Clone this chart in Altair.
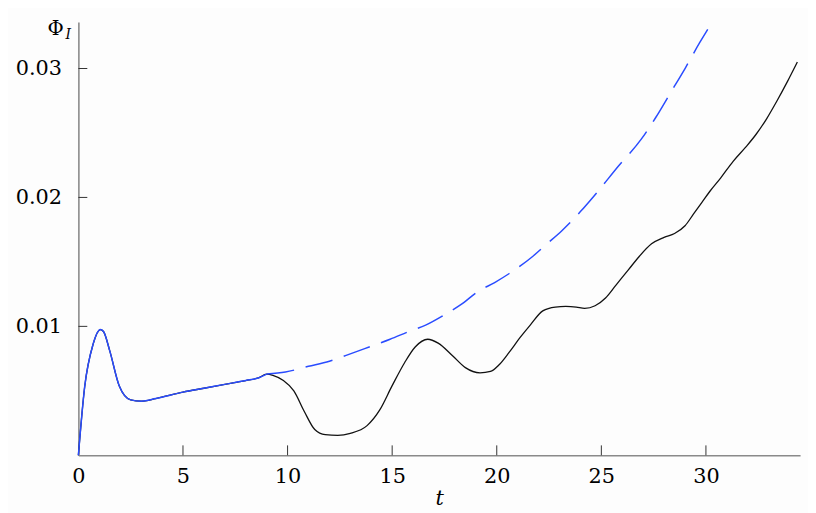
import altair as alt
import pandas as pd

# black solid curve (t, Phi_I)
black_t = [0, 0.3, 0.7, 1.05, 1.2, 1.5, 1.95, 2.5, 3.0, 3.7, 5.0, 6.0, 7.0, 8.0, 8.6, 9.0,
           9.3, 9.8, 10.3, 10.8, 11.3, 11.8, 12.4, 13.0, 13.8, 14.4, 15.0, 15.6, 16.1, 16.7,
           17.2, 17.9, 18.5, 19.2, 19.7, 20.1, 20.6, 21.1, 21.6, 22.2, 22.8, 23.3, 23.8, 24.2,
           24.7, 25.2, 25.7, 26.3, 26.8, 27.4, 28.0, 28.5, 29.0, 29.4, 29.8, 30.2, 30.7, 31.3,
           31.9, 32.4, 32.9, 33.4, 33.9, 34.37]
black_v = [0, 0.0053, 0.0086, 0.00975, 0.0096, 0.0081, 0.0054, 0.0043, 0.0042, 0.0044, 0.0049,
           0.0052, 0.0055, 0.0058, 0.0060, 0.0063, 0.0062, 0.0058, 0.0050, 0.0034, 0.0020, 0.0016,
           0.00155, 0.0017, 0.0023, 0.0035, 0.0054, 0.0072, 0.0084, 0.0090, 0.0087, 0.0077, 0.0068,
           0.0064, 0.0065, 0.0070, 0.0080, 0.0091, 0.0101, 0.0112, 0.0115, 0.01155, 0.0115, 0.0114,
           0.0116, 0.0122, 0.0132, 0.0144, 0.0154, 0.0164, 0.0169, 0.0172, 0.0178, 0.0187, 0.0196,
           0.0205, 0.0215, 0.0228, 0.0239, 0.0249, 0.0261, 0.0275, 0.0290, 0.0305]

# blue dashed continuation (from t = 9)
blue_t = [9.0, 9.9, 11.0, 12.0, 12.8, 13.9, 14.9, 15.8, 16.6, 17.5, 18.3, 19.1, 19.9, 20.6,
          21.7, 22.4, 23.1, 24.0, 24.8, 25.8, 26.9, 27.6, 28.3, 29.0, 29.7, 30.3]
blue_v = [0.0063, 0.00646, 0.0069, 0.0073, 0.00775, 0.0084, 0.0090, 0.0096, 0.0101, 0.0109,
          0.0117, 0.0127, 0.0134, 0.0141, 0.0154, 0.0164, 0.0174, 0.0189, 0.0204, 0.0224,
          0.0245, 0.0262, 0.0281, 0.0300, 0.0320, 0.0336]

x_ticks = [5, 10, 15, 20, 25, 30]
x_labels = [0, 5, 10, 15, 20, 25, 30]
y_ticks = [0.01, 0.02, 0.03]

W, H = 728, 437
serif = "DejaVu Serif"
fs = 21

black_df = pd.DataFrame({"t": black_t, "v": black_v})
blue_early = black_df[black_df["t"] <= 9.0]
blue_df = pd.DataFrame({"t": blue_t, "v": blue_v})

xs = alt.Scale(domain=[0, 34.5], nice=False, zero=False)
ys = alt.Scale(domain=[0, 0.0336], nice=False, zero=False)

X = alt.X("t:Q", scale=xs,
          axis=alt.Axis(values=x_labels, ticks=False, grid=False, domainColor="#8a8a8a",
                        domainWidth=1.6, labelPadding=10, labelFlush=False, title="t",
                        titleFontStyle="italic", titlePadding=2))
Y = alt.Y("v:Q", scale=ys,
          axis=alt.Axis(values=y_ticks, format=".2f", ticks=False, grid=False,
                        domainColor="#8a8a8a", domainWidth=1.6, labelPadding=17,
                        labelFlush=False, title=None))

black = alt.Chart(black_df).mark_line(color="#111111", strokeWidth=1.3,
                                      interpolate="monotone").encode(x=X, y=Y)
blue1 = alt.Chart(blue_early).mark_line(color="#2a4cff", strokeWidth=1.5,
                                        interpolate="monotone").encode(x="t:Q", y="v:Q")
blue2 = alt.Chart(blue_df).mark_line(color="#2a4cff", strokeWidth=1.5, strokeDash=[28, 12],
                                     interpolate="monotone", clip=True).encode(x="t:Q", y="v:Q")

xt = alt.Chart(pd.DataFrame({"t": x_ticks})).mark_rule(color="#333", strokeWidth=1).encode(
    x="t:Q", y=alt.value(H - 10), y2=alt.value(H))
yt = alt.Chart(pd.DataFrame({"v": y_ticks})).mark_rule(color="#333", strokeWidth=1).encode(
    y="v:Q", x=alt.value(0), x2=alt.value(9))

phi = alt.Chart(pd.DataFrame({"s": ["Φ"]})).mark_text(
    fontSize=20, font=serif, color="#000", align="center", baseline="alphabetic").encode(
    text="s:N", x=alt.value(-23), y=alt.value(13))
sub = alt.Chart(pd.DataFrame({"s": ["I"]})).mark_text(
    fontSize=14, fontStyle="italic", font=serif, color="#000", align="left",
    baseline="alphabetic").encode(text="s:N", x=alt.value(-13), y=alt.value(17))

chart = alt.layer(black, blue1, blue2, xt, yt, phi, sub).properties(
    width=W, height=H,
    padding={"left": 71, "top": 12, "right": 8, "bottom": 56},
    autosize=alt.AutoSizeParams(type="none"),
    background="#fdfdfd",
).configure_axis(
    labelFont=serif, labelFontSize=fs, labelColor="#000",
    titleFont=serif, titleFontSize=fs, titleFontWeight="normal", titleColor="#000",
).configure_view(stroke=None)

chart.save("out.html", embed_options={"renderer": "svg", "actions": False})
